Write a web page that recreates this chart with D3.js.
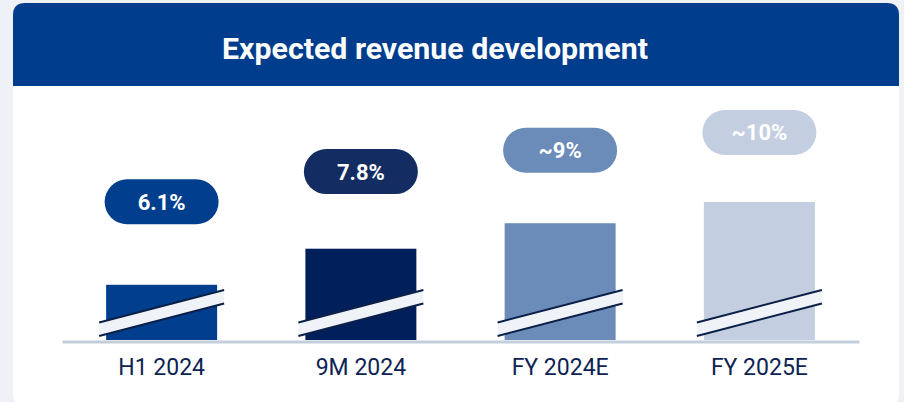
<!DOCTYPE html>
<html>
<head>
<meta charset="utf-8">
<script src="https://cdn.jsdelivr.net/npm/d3@7"></script>
<style>
  html, body { margin: 0; padding: 0; background: #eef2f6; }
  svg { display: block; }
</style>
</head>
<body>
<svg id="chart" width="904" height="402"></svg>
<script>
// Revenue growth by period
const periods = ["H1 2024", "9M 2024", "FY 2024E", "FY 2025E"];
const growth = [6.1, 7.8, 9, 10];
const growthLabels = ["6.1%", "7.8%", "~9%", "~10%"];
const barColors = ["#013f8e", "#001f5b", "#6b8cb9", "#c3cee0"];
const pillColors = ["#013f8e", "#132c62", "#6b8cb9", "#c3cee0"];
const title = "Expected revenue development";

const svg = d3.select("#chart");
const W = 904, H = 402;

// Card with a rounded header
const card = { x: 13, y: 3, w: 886, h: 404, r: 12 };
svg.append("rect")
  .attr("x", card.x).attr("y", card.y)
  .attr("width", card.w).attr("height", card.h)
  .attr("rx", card.r).attr("fill", "#ffffff");

const headerH = 83;
svg.append("path")
  .attr("d", `M${card.x},${card.y + headerH}
              V${card.y + card.r}
              Q${card.x},${card.y} ${card.x + card.r},${card.y}
              H${card.x + card.w - card.r}
              Q${card.x + card.w},${card.y} ${card.x + card.w},${card.y + card.r}
              V${card.y + headerH} Z`)
  .attr("fill", "#003d8c");

const titleText = svg.append("text")
  .attr("x", 435).attr("y", 59)
  .attr("text-anchor", "middle")
  .attr("fill", "#ffffff")
  .style("font-family", "Roboto, 'Open Sans', sans-serif")
  .style("font-weight", 700)
  .style("font-size", "29px")
  .text(title);
// fit title to its intended width
{
  const w = titleText.node().getComputedTextLength();
  const target = 426;
  titleText.style("font-size", (29 * target / w).toFixed(2) + "px");
}

// Scales
const baseY = 340;
const x = d3.scaleBand()
  .domain(periods)
  .range([62, 859])
  .paddingInner(0.443)
  .paddingOuter(0.2215);

// Broken value axis: bars start from a truncated baseline
const y = d3.scaleLinear().domain([3.5, 10]).range([baseY, 202]);
// Label pills follow the values on their own, gentler scale
const yPill = d3.scaleLinear().domain([3.5, 10]).range([248, 132.5]);

const data = periods.map((p, i) => ({
  period: p, value: growth[i], label: growthLabels[i],
  bar: barColors[i], pill: pillColors[i]
}));

// Bars
svg.append("g").selectAll("rect")
  .data(data)
  .join("rect")
  .attr("x", d => x(d.period))
  .attr("y", d => y(d.value))
  .attr("width", x.bandwidth())
  .attr("height", d => baseY - y(d.value))
  .attr("fill", d => d.bar);

// Axis break bands across each bar
const brk = svg.append("g");
data.forEach(d => {
  const l = x(d.period) - 7, r = x(d.period) + x.bandwidth() + 7;
  const tl = 322.5, tr = 290, bl = 336, br = 303.5;
  brk.append("path")
    .attr("d", `M${l},${tl} L${r},${tr} L${r},${br} L${l},${bl} Z`)
    .attr("fill", "#eff3f7");
  brk.append("line")
    .attr("x1", l).attr("y1", tl).attr("x2", r).attr("y2", tr)
    .attr("stroke", "#0b2049").attr("stroke-width", 2);
  brk.append("line")
    .attr("x1", l).attr("y1", bl).attr("x2", r).attr("y2", br)
    .attr("stroke", "#0b2049").attr("stroke-width", 2);
});

// Value pills
const pillW = 114, pillH = 45;
const pills = svg.append("g").selectAll("g")
  .data(data)
  .join("g")
  .attr("transform", d => `translate(${x(d.period) + x.bandwidth() / 2},${yPill(d.value)})`);
pills.append("rect")
  .attr("x", -pillW / 2).attr("y", -pillH / 2)
  .attr("width", pillW).attr("height", pillH)
  .attr("rx", pillH / 2)
  .attr("fill", d => d.pill);
pills.append("text")
  .attr("text-anchor", "middle")
  .attr("dy", "0.36em")
  .attr("fill", "#ffffff")
  .style("font-family", "Roboto, 'Open Sans', sans-serif")
  .style("font-weight", 700)
  .style("font-size", "22px")
  .text(d => d.label);

// Category axis
const axis = svg.append("g")
  .attr("transform", `translate(0,${baseY + 1.5})`)
  .call(d3.axisBottom(x).tickSize(0).tickPadding(17));
axis.select(".domain")
  .attr("stroke", "#c3cedb")
  .attr("stroke-width", 3);
axis.selectAll(".tick text")
  .attr("fill", "#0e2352")
  .style("font-family", "Roboto, 'Open Sans', sans-serif")
  .style("font-weight", 400)
  .style("font-size", "23px");
</script>
</body>
</html>
